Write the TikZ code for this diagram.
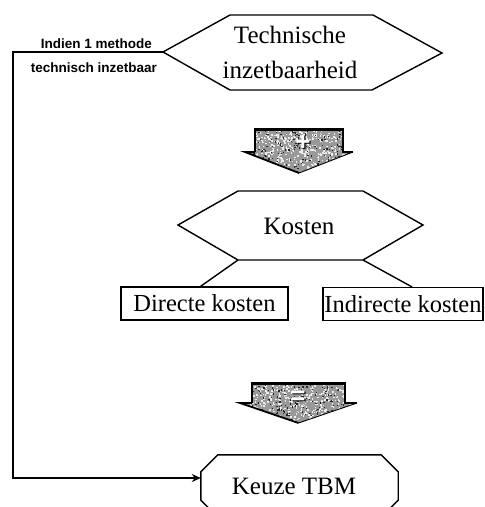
\documentclass[tikz,border=0pt]{standalone}
\usepackage{fontspec}
\setmainfont{Liberation Serif}
\newfontfamily\lblfont{Liberation Sans}
\usetikzlibrary{arrows.meta}
\begin{document}
\begin{tikzpicture}[x=1pt,y=-1pt,
  outl/.style={draw=black,line width=1.4pt,line join=miter},
  bigtxt/.style={font=\fontsize{25}{35}\selectfont,inner sep=0pt},
  lbl/.style={font=\lblfont\bfseries\fontsize{13.5}{15}\selectfont,inner sep=0pt,anchor=base east},
  boxnode/.style={draw=black,line width=1.2pt,inner sep=0pt,font=\fontsize{24.5}{28}\selectfont},
  conn/.style={draw=black,line width=1.4pt},
  arredge/.style={draw=black,line width=1.8pt,line join=miter},
  symb/.style={font=\lblfont\bfseries\fontsize{26}{28}\selectfont,text=white,inner sep=0pt,anchor=base},
  symbshadow/.style={font=\lblfont\bfseries\fontsize{26}{28}\selectfont,text=black,inner sep=0pt,anchor=base},
]
\useasboundingbox (0,0) rectangle (485,507);

% ---------- Technische inzetbaarheid (hexagon)
\coordinate (techL) at (163,52);
\coordinate (techTL) at (230,15);
\coordinate (techTR) at (373,15);
\coordinate (techR) at (442,53);
\coordinate (techBR) at (372,90);
\coordinate (techBL) at (230,90);
\draw[outl] (techL) -- (techTL) -- (techTR) -- (techR) -- (techBR) -- (techBL) -- cycle;
\node (techtxt) [bigtxt,align=center] at (290,52.5) {Technische\\inzetbaarheid};

% ---------- labels
\node (lbl1) [lbl] at (152,48) {Indien 1 methode};
\node (lbl2) [lbl] at (157,72) {technisch inzetbaar};

% ---------- arrow 1 (+)
\begin{scope}
  \clip (255,129) -- (343,129) -- (343,152) -- (353,152) -- (299,173) -- (245,152) -- (255,152) -- cycle;
  \fill[black!40] (240,125) rectangle (360,180);
  \pgfmathsetseed{11}
  \foreach \i in {1,...,600}{
    \pgfmathsetmacro{\px}{242+rnd*115}
    \pgfmathsetmacro{\py}{127+rnd*48}
    \fill[white!85!gray] (\px,\py) rectangle ++(1.5,1.5);
  }
  \foreach \i in {1,...,220}{
    \pgfmathsetmacro{\px}{242+rnd*115}
    \pgfmathsetmacro{\py}{127+rnd*48}
    \fill[black!85] (\px,\py) rectangle ++(1.3,1.3);
  }
\end{scope}
\node (plusshadow) [symbshadow] at (304.2,151.2) {+};
\node (plus) [symb] at (303,150) {+};
\draw[arredge] (255,152) -- (255,129) -- (343,129) -- (343,152) -- (353,152);
\draw[arredge,line width=3pt] (254,129) -- (344,129);
\draw[arredge] (255,152) -- (245,152) -- (299,173);
\draw[black,line width=0.9pt] (299,173) -- (353,152);

% ---------- Kosten (hexagon)
\coordinate (kosL) at (178,225);
\coordinate (kosTL) at (238,191);
\coordinate (kosTR) at (363,191);
\coordinate (kosR) at (423,225);
\coordinate (kosBR) at (363,260);
\coordinate (kosBL) at (238,260);
\draw[outl] (kosL) -- (kosTL) -- (kosTR) -- (kosR) -- (kosBR) -- (kosBL) -- cycle;
\node (kostxt) [bigtxt] at (299,226) {Kosten};

% ---------- cost boxes
\node (dir) [boxnode,minimum width=167pt,minimum height=33pt] at (204.5,303.5) {Directe kosten};
\node (indir) [boxnode,minimum width=160pt,minimum height=33pt] at (403,304) {Indirecte kosten};
\draw[conn] (kosBL) -- ([xshift=-4pt]dir.north);
\draw[conn] (kosBR) -- ([xshift=9pt]indir.north);

% ---------- arrow 2 (=)
\begin{scope}
  \clip (252,383) -- (345,383) -- (345,403) -- (357,403) -- (298.5,423) -- (240,403) -- (252,403) -- cycle;
  \fill[black!40] (235,378) rectangle (362,428);
  \pgfmathsetseed{23}
  \foreach \i in {1,...,600}{
    \pgfmathsetmacro{\px}{237+rnd*122}
    \pgfmathsetmacro{\py}{380+rnd*46}
    \fill[white!85!gray] (\px,\py) rectangle ++(1.5,1.5);
  }
  \foreach \i in {1,...,220}{
    \pgfmathsetmacro{\px}{237+rnd*122}
    \pgfmathsetmacro{\py}{380+rnd*46}
    \fill[black!85] (\px,\py) rectangle ++(1.3,1.3);
  }
\end{scope}
\node (eqshadow) [symbshadow] at (299.2,405.2) {=};
\node (eq) [symb] at (298,404) {=};
\draw[arredge] (252,403) -- (252,383) -- (345,383) -- (345,403) -- (357,403);
\draw[arredge,line width=3pt] (251,383) -- (346,383);
\draw[arredge] (252,403) -- (240,403) -- (298.5,423);
\draw[black,line width=0.9pt] (298.5,423) -- (357,403);

% ---------- Keuze TBM (octagon)
\node (keuze) [minimum width=197pt,minimum height=62pt,inner sep=0pt] at (299.5,486) {};
\draw[outl] ([yshift=-17pt]keuze.north west) -- ([xshift=17pt]keuze.north west)
  -- ([xshift=-17pt]keuze.north east) -- ([yshift=-17pt]keuze.north east)
  -- ([yshift=17pt]keuze.south east) -- ([xshift=-17pt]keuze.south east)
  -- ([xshift=17pt]keuze.south west) -- ([yshift=17pt]keuze.south west) -- cycle;
\node (keuzetxt) [bigtxt] at (294,486) {Keuze TBM};

% ---------- main connector
\coordinate (bendA) at (13,52);
\coordinate (bendB) at (13,478);
\draw[conn,-{Stealth[length=9pt,width=8pt]}] (techL) -- (bendA) -- (bendB) -- ([yshift=8pt]keuze.west);
\end{tikzpicture}
\end{document}
